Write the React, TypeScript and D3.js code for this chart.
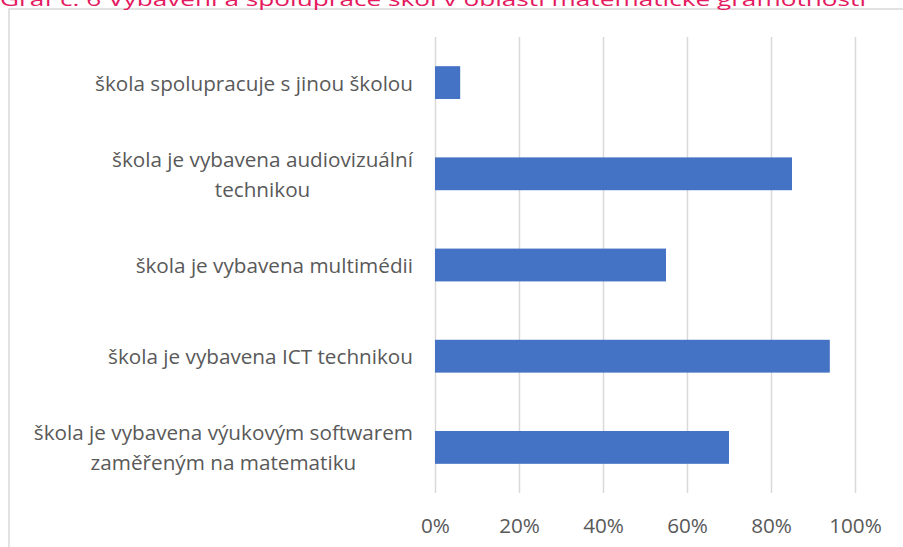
import * as d3 from "d3";
import { useRef, useEffect } from "react";

const title = "Graf č. 6 Vybavení a spolupráce škol v oblasti matematické gramotnosti";

const categories = [
  "škola spolupracuje s jinou školou",
  "škola je vybavena audiovizuální\ntechnikou",
  "škola je vybavena multimédii",
  "škola je vybavena ICT technikou",
  "škola je vybavena výukovým softwarem\nzaměřeným na matematiku",
];

const values = [6, 85, 55, 94, 70];

const xTicks = [0, 20, 40, 60, 80, 100];

export default function App({
  width = 903,
  height = 547,
  marginTop = 37,
  marginRight = 48,
  marginBottom = 54,
  marginLeft = 435,
}) {
  const gx = useRef<SVGGElement>(null);
  const gy = useRef<SVGGElement>(null);

  const font = "'Open Sans', sans-serif";
  const fontSize = 20.7;

  const x = d3
    .scaleLinear()
    .domain([0, 100])
    .range([marginLeft, width - marginRight]);

  const y = d3
    .scaleBand<string>()
    .domain(categories)
    .range([marginTop, height - marginBottom])
    .paddingInner(0.64)
    .paddingOuter(0.32);

  useEffect(() => {
    if (gx.current) {
      const g = d3.select(gx.current);
      g.selectAll("*").remove();
      g.call(
        d3
          .axisBottom(x)
          .tickValues(xTicks)
          .tickSize(height - marginTop - marginBottom)
          .tickFormat((d) => `${d}%`)
      );
      g.select(".domain").remove();
      g.selectAll(".tick line")
        .attr("stroke", "#d9d9d9")
        .attr("stroke-width", 1.5)
        .attr("transform", `translate(0,${-(height - marginTop - marginBottom)})`);
      g.selectAll(".tick text")
        .attr("fill", "#595959")
        .attr("font-family", font)
        .attr("font-size", fontSize)
        .attr("y", 0)
        .attr("dy", 40);
    }
  }, [x]);

  useEffect(() => {
    if (gy.current) {
      const g = d3.select(gy.current);
      g.selectAll("*").remove();
      const rightEdge = marginLeft - 22;
      const lineH = 30;

      categories.forEach((c) => {
        const lines = c.split("\n");
        const cy = y(c)! + y.bandwidth() / 2;
        const texts = lines.map((ln, i) =>
          g
            .append("text")
            .text(ln)
            .attr("fill", "#595959")
            .attr("font-family", font)
            .attr("font-size", fontSize)
            .attr("text-anchor", "middle")
            .attr("dominant-baseline", "central")
            .attr("y", cy + (i - (lines.length - 1) / 2) * lineH)
        );
        const maxW = d3.max(texts, (t) => (t.node() as SVGTextElement).getComputedTextLength()) || 0;
        texts.forEach((t) => t.attr("x", rightEdge - maxW / 2));
      });
    }
  }, [y]);

  return (
    <svg
      width={width}
      height={height}
      style={{ position: "absolute", left: 0, top: 0, background: "#fff" }}
    >
      <rect x={9} y={9} width={width + 20} height={height + 20} fill="#fff" stroke="#d9d9d9" strokeWidth={1.5} />
      <text
        x={0}
        y={6}
        fill="#E5195F"
        fontFamily={font}
        fontSize={19}
        textLength={866}
        lengthAdjust="spacingAndGlyphs"
      >
        {title}
      </text>
      <g ref={gx} transform={`translate(0,${height - marginBottom})`} />
      <g>
        {categories.map((c, i) => (
          <rect
            key={c}
            x={x(0)}
            y={y(c)}
            width={x(values[i]) - x(0)}
            height={y.bandwidth()}
            fill="#4472C4"
          />
        ))}
      </g>
      <g ref={gy} />
    </svg>
  );
}
